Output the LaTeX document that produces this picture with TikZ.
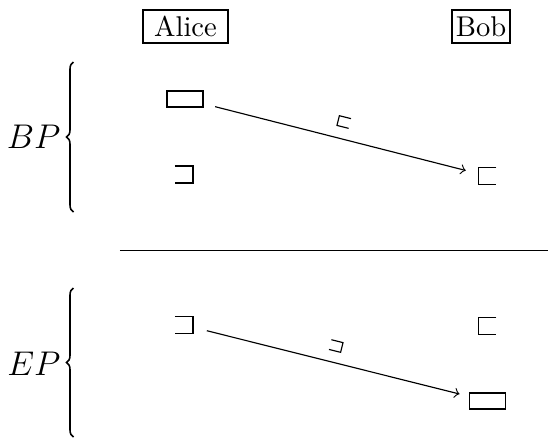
\documentclass[tikz,border=0pt]{standalone}
\usetikzlibrary{decorations.pathreplacing}
\begin{document}
\begin{tikzpicture}[x=0.35pt,y=-0.35pt,>=to,
  namebox/.style={draw,inner sep=0pt,minimum height={33*0.35pt}},
  sym/.style={inner sep=0pt,outer sep=0pt,minimum width={18*0.35pt},minimum height={17*0.35pt}},
  symline/.style={line width=0.5pt},
  wide/.style={draw,line width=0.5pt,inner sep=0pt,outer sep=0pt,minimum width={36*0.35pt},minimum height={16*0.35pt}},
  lab/.style={inner sep=0pt,outer sep=0pt,rotate=-14,minimum width={12*0.35pt},minimum height={10*0.35pt}},
  side/.style={anchor=east,inner sep=0pt,font=\fontsize{12.6}{15}\selectfont},
  bracedeco/.style={decorate,decoration={brace,amplitude={7*0.35pt}},line width=0.55pt}]
\useasboundingbox (0,0) rectangle (548,441);
% headers
\node[namebox,minimum width={85*0.35pt}] (alice) at (185.5,26.5) {Alice};
\node[namebox,minimum width={58*0.35pt}] (bob) at (481,26.5) {Bob};
% side labels with braces
\node[side] (bp) at (61,137) {$BP$};
\coordinate (bpb) at (73.5,212);
\coordinate (bpt) at (73.5,62);
\draw[bracedeco] (bpb) -- (bpt);
\node[side] (ep) at (61,364) {$EP$};
\coordinate (epb) at (73.5,437);
\coordinate (ept) at (73.5,288);
\draw[bracedeco] (epb) -- (ept);
% BP block
\node[wide] (r1) at (185,99) {};
\node[sym] (a1) at (184,174.5) {};
\draw[symline] (a1.north west) -- (a1.north east) -- (a1.south east) -- (a1.south west);
\node[sym] (b1) at (487.5,176) {};
\draw[symline] (b1.north east) -- (b1.north west) -- (b1.south west) -- (b1.south east);
\draw[->,shorten <=4.4pt,shorten >=4.6pt] (r1) -- (b1);
\node[lab] (l1) at (344,122) {};
\draw (l1.north east) -- (l1.north west) -- (l1.south west) -- (l1.south east);
% separator
\coordinate (s1) at (120,250.5);
\coordinate (s2) at (548,250.5);
\draw (s1) -- (s2);
% EP block
\node[sym] (a2) at (184,325) {};
\draw[symline] (a2.north west) -- (a2.north east) -- (a2.south east) -- (a2.south west);
\node[sym] (b2) at (487.5,326) {};
\draw[symline] (b2.north east) -- (b2.north west) -- (b2.south west) -- (b2.south east);
\node[wide] (r2) at (487.5,401) {};
\draw[->,shorten <=5pt,shorten >=3.6pt] (a2) -- (r2);
\node[lab] (l2) at (336,346) {};
\draw (l2.north west) -- (l2.north east) -- (l2.south east) -- (l2.south west);
\end{tikzpicture}
\end{document}
